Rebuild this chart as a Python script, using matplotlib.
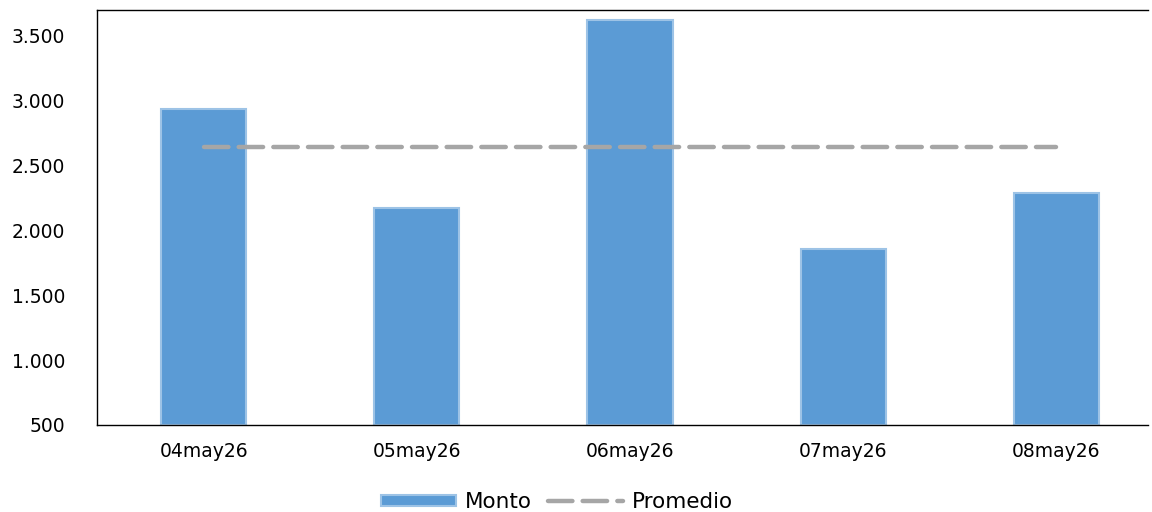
import matplotlib
matplotlib.use("Agg")
import matplotlib.pyplot as plt
from matplotlib.ticker import FuncFormatter

categories = ["04may26", "05may26", "06may26", "07may26", "08may26"]
monto = [2937, 2173, 3623, 1857, 2289]
promedio = [2644, 2644, 2644, 2644, 2644]
yticks = [500, 1000, 1500, 2000, 2500, 3000, 3500]

plt.rcParams['font.family'] = ['DejaVu Sans']
FS = 13.5
LFS = 15.5

fig = plt.figure(figsize=(11.52, 5.12), dpi=100)
ax = fig.add_axes([97/1152, 1-425/512, (1148-97)/1152, (425-10)/512])

x = list(range(len(categories)))
bars = ax.bar(x, [m - 500 for m in monto], bottom=500, width=0.40, color='#5b9bd5',
              edgecolor='#9dc3e6', linewidth=1.5, label='Monto', zorder=2)
line, = ax.plot(x, promedio, color='#a6a6a6', linewidth=3.2, linestyle=(0, (5.5, 2.3)),
                dash_capstyle='round', label='Promedio', zorder=3)

ax.set_xlim(-0.5, 4.43)
ax.set_ylim(500, 3700)
ax.set_yticks(yticks)
ax.yaxis.set_major_formatter(FuncFormatter(lambda v, p: f"{int(v):,}".replace(",", ".")))
ax.set_xticks(x)
ax.set_xticklabels(categories)
ax.tick_params(axis='both', length=0, labelsize=FS, colors='#000000')
ax.tick_params(axis='y', pad=23)
ax.tick_params(axis='x', pad=12)

ax.spines['right'].set_visible(False)
for s in ['left', 'bottom', 'top']:
    ax.spines[s].set_color('#000000')
    ax.spines[s].set_linewidth(1.0)

fig.legend(handles=[bars, line], labels=['Monto', 'Promedio'], loc='center',
           bbox_to_anchor=(557/1152, 1-502/512), ncol=2,
           frameon=False, fontsize=LFS, handlelength=3.5, handleheight=0.45,
           columnspacing=0.75, handletextpad=0.4)

fig.savefig("out.png", dpi=100)
